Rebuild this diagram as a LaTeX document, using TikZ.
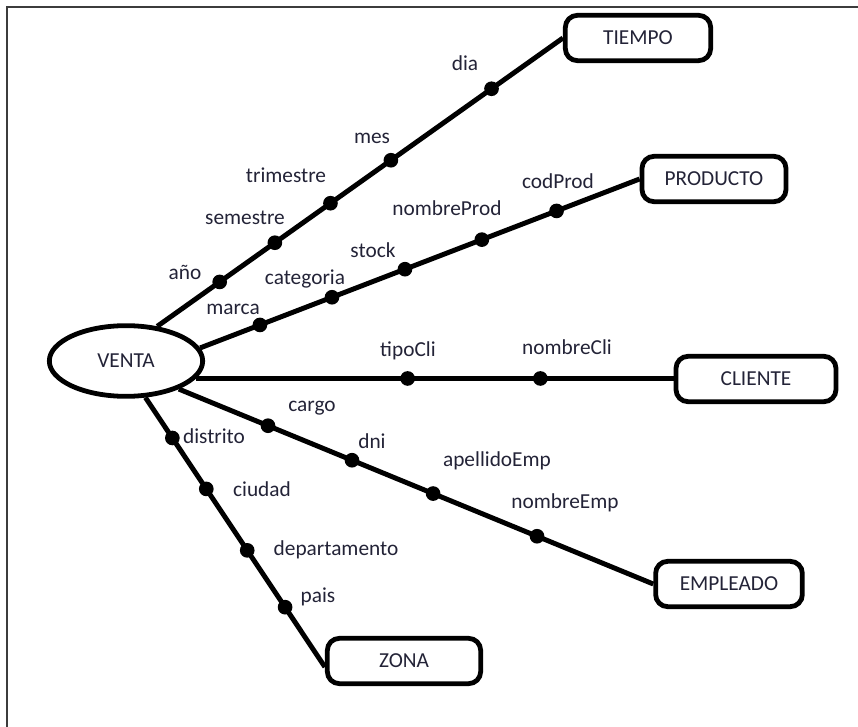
\documentclass[tikz,border=0pt]{standalone}
\usepackage{fontspec}
\setmainfont{Carlito}
\usetikzlibrary{shapes.geometric}
\definecolor{txtcol}{RGB}{35,35,55}
\tikzset{
  entbox/.style={draw, line width=3.6pt, rounded corners=9pt, fill=white, minimum height=34pt, inner sep=2pt, font=\fontsize{16}{19}\selectfont, text=txtcol},
  conn/.style={line width=3.7pt},
  attrdot/.style={circle, fill=black, minimum size=11pt, inner sep=0pt},
  attrlbl/.style={font=\fontsize{16}{19}\selectfont, text=txtcol, inner sep=0.75pt},
}
\begin{document}
\begin{tikzpicture}[x=0.75pt,y=0.75pt,yscale=-1,xscale=1]
        \useasboundingbox (0,0) rectangle (858,727);
        % Frame
        \draw [color={rgb, 255:red, 60; green, 60; blue, 60 }, line width=1.6pt] (858,7) -- (7,7) -- (7,727) ;
        % Fact
        \draw (126,361) node [ellipse, draw, line width=3.6pt, minimum width=115pt, minimum height=53pt, inner sep=0pt, font=\fontsize{16}{19}\selectfont, text=txtcol] (venta) {VENTA};
        % Dimensions
        \draw (638,38) node [entbox, minimum width=109pt] (tiempo) {TIEMPO};
        \draw (714,179) node [entbox, minimum width=108pt] (producto) {PRODUCTO};
        \draw (756,379) node [entbox, minimum width=120pt] (cliente) {CLIENTE};
        \draw (729,584) node [entbox, minimum width=110pt] (empleado) {EMPLEADO};
        \draw (404,661) node [entbox, minimum width=115pt] (zona) {ZONA};
        % Connection TIEMPO
        \draw [conn] (venta.48) -- (tiempo.west)
            node [attrdot, pos=0.154] (dAnio) {}
            node [attrdot, pos=0.290] (dSemestre) {}
            node [attrdot, pos=0.427] (dTrimestre) {}
            node [attrdot, pos=0.576] (dMes) {}
            node [attrdot, pos=0.824] (dDia) {} ;
        % Connection PRODUCTO
        \draw [conn] (venta.10) -- (producto.west)
            node [attrdot, pos=0.136] (dMarca) {}
            node [attrdot, pos=0.300] (dCategoria) {}
            node [attrdot, pos=0.466] (dStock) {}
            node [attrdot, pos=0.641] (dNombreProd) {}
            node [attrdot, pos=0.811] (dCodProd) {} ;
        % Connection CLIENTE
        \draw [conn] (venta.-14) -- (venta.-14 -| cliente.west)
            node [attrdot, pos=0.443] (dTipoCli) {}
            node [attrdot, pos=0.721] (dNombreCli) {} ;
        % Connection EMPLEADO
        \draw [conn] (venta.-28) -- (empleado.west)
            node [attrdot, pos=0.188] (dCargo) {}
            node [attrdot, pos=0.365] (dDni) {}
            node [attrdot, pos=0.536] (dApellidoEmp) {}
            node [attrdot, pos=0.755] (dNombreEmp) {} ;
        % Connection ZONA
        \draw [conn] (venta.-62) -- ([yshift=4.5pt]zona.west)
            node [attrdot, pos=0.150] (dDistrito) {}
            node [attrdot, pos=0.339] (dCiudad) {}
            node [attrdot, pos=0.567] (dDepartamento) {}
            node [attrdot, pos=0.778] (dPais) {} ;
        % Text Node
        \draw (465,63) node [attrlbl] (lDia) {dia};
        \draw (372,138) node [attrlbl] (lMes) {mes};
        \draw (286,175) node [attrlbl] (lTrimestre) {trimestre};
        \draw (245,218) node [attrlbl] (lSemestre) {semestre};
        \draw (185,272) node [attrlbl] (lAnio) {año};
        % Text Node
        \draw (558,181) node [attrlbl] (lCodProd) {codProd};
        \draw (447,208) node [attrlbl] (lNombreProd) {nombreProd};
        \draw (373,250) node [attrlbl] (lStock) {stock};
        \draw (305,279) node [attrlbl] (lCategoria) {categoria};
        \draw (233,309) node [attrlbl] (lMarca) {marca};
        % Text Node
        \draw (408,351) node [attrlbl] (lTipoCli) {tipoCli};
        \draw (567,347) node [attrlbl] (lNombreCli) {nombreCli};
        % Text Node
        \draw (312,408) node [attrlbl] (lCargo) {cargo};
        \draw (372,441) node [attrlbl] (lDni) {dni};
        \draw (497,461) node [attrlbl] (lApellidoEmp) {apellidoEmp};
        \draw (565,503) node [attrlbl] (lNombreEmp) {nombreEmp};
        % Text Node
        \draw (214,436) node [attrlbl] (lDistrito) {distrito};
        \draw (262,489) node [attrlbl] (lCiudad) {ciudad};
        \draw (336,550) node [attrlbl] (lDepartamento) {departamento};
        \draw (318,597) node [attrlbl] (lPais) {pais};
\end{tikzpicture}
\end{document}
